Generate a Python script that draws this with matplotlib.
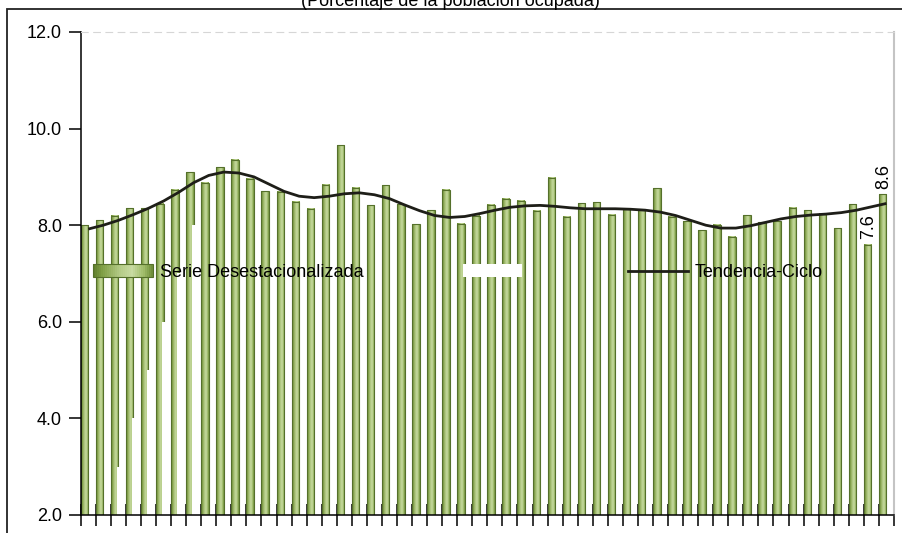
import numpy as np
import matplotlib
matplotlib.use('Agg')
import matplotlib.pyplot as plt
from matplotlib.colors import LinearSegmentedColormap
from matplotlib.patches import Rectangle, Patch
from matplotlib.lines import Line2D
from matplotlib.legend_handler import HandlerBase

plt.rcParams['font.family'] = ['Liberation Sans', 'DejaVu Sans']

# -------- datos --------
serie = [8.0, 8.1, 8.2, 8.35, 8.35, 8.44, 8.73, 9.1, 8.88, 9.2,
         9.35, 8.96, 8.7, 8.69, 8.49, 8.34, 8.84, 9.65, 8.78, 8.41,
         8.83, 8.43, 8.02, 8.31, 8.73, 8.03, 8.2, 8.42, 8.55, 8.51,
         8.3, 8.98, 8.17, 8.45, 8.47, 8.22, 8.34, 8.33, 8.76, 8.17,
         8.08, 7.9, 8.01, 7.76, 8.21, 8.06, 8.08, 8.36, 8.31, 8.24,
         7.94, 8.43, 7.6, 8.64]
tendencia = [7.92, 8.0, 8.1, 8.22, 8.35, 8.5, 8.68, 8.88, 9.03, 9.1,
             9.08, 9.0, 8.85, 8.7, 8.6, 8.57, 8.6, 8.65, 8.67, 8.63,
             8.55, 8.42, 8.3, 8.2, 8.16, 8.18, 8.24, 8.31, 8.37, 8.4,
             8.41, 8.39, 8.36, 8.34, 8.34, 8.34, 8.33, 8.31, 8.27, 8.2,
             8.1, 8.0, 7.94, 7.94, 7.99, 8.06, 8.13, 8.18, 8.21, 8.23,
             8.26, 8.31, 8.38, 8.45]
# serie auxiliar blanca (solo visible al inicio)
auxiliar = [np.nan, np.nan, 3.0, 4.0, 5.0, 6.0, 7.0, 8.0] + [np.nan] * 46
y_ticks = [2, 4, 6, 8, 10, 12]

TITULO = '(Porcentaje de la población ocupada)'
LBL_SERIE = 'Serie Desestacionalizada'
LBL_TEND = 'Tendencia-Ciclo'

# -------- estilos --------
EDGE = '#55702b'
TREND_C = '#1e1e18'
grad_cmap = LinearSegmentedColormap.from_list('verde', [
    (0.0, '#5d7c2c'), (0.15, '#7f9e45'), (0.45, '#b4cb86'),
    (0.65, '#c8dba2'), (0.85, '#9fbb68'), (1.0, '#6a8a35')])


class GradHandler(HandlerBase):
    def create_artists(self, legend, orig, xd, yd, w, h, fontsize, trans):
        arts = []
        n = 30
        for k in range(n):
            arts.append(Rectangle((-xd + w * k / n, -yd), w / n + 0.4, h,
                                  facecolor=grad_cmap((k + 0.5) / n),
                                  edgecolor='none', transform=trans))
        arts.append(Rectangle((-xd, -yd), w, h, facecolor='none',
                              edgecolor=EDGE, lw=0.8, transform=trans))
        return arts


fig = plt.figure(figsize=(9.02, 5.33), dpi=100)
ax = fig.add_axes([0.0895, 0.0338, 0.9016, 0.9062])

x = np.arange(len(serie))
grad = np.linspace(0, 1, 64).reshape(1, -1)

# barras con degradado
for xi, v in zip(x, serie):
    ax.imshow(grad, cmap=grad_cmap, extent=[xi, xi + 0.5, 0, v],
              aspect='auto', interpolation='bicubic', zorder=2)
ax.bar(x, serie, width=0.5, align='edge', facecolor='none',
       edgecolor=EDGE, linewidth=0.8, zorder=2.1)
ax.bar(x + 0.4, auxiliar, width=0.5, align='edge', color='white',
       edgecolor='none', zorder=2.5)

ax.plot(x + 0.5, tendencia, color=TREND_C, lw=2, zorder=3,
        solid_joinstyle='round', solid_capstyle='butt')

# etiquetas últimas barras
for i in (len(serie) - 2, len(serie) - 1):
    ax.annotate(f'{serie[i]:.1f}', (i + 0.3, serie[i]), xytext=(0, 4),
                textcoords='offset points', rotation=90, ha='center',
                va='bottom', fontsize=13, zorder=4)

ax.set_xlim(0, len(serie))
ax.set_ylim(2, 12)
ax.set_yticks(y_ticks)
ax.set_yticklabels([f'{t:.1f}' for t in y_ticks])
ax.set_xticks(np.arange(len(serie) + 1))
ax.set_xticklabels([])
ax.tick_params(axis='y', direction='out', length=8.6, width=1.1, pad=5,
               labelsize=13)
ax.tick_params(axis='x', direction='inout', length=16.5, width=1.1)

for s in ('left', 'bottom'):
    ax.spines[s].set_color('black')
    ax.spines[s].set_linewidth(1.1)
ax.spines['top'].set_color('#d6d6d6')
ax.spines['top'].set_linestyle((0, (6, 5)))
ax.spines['right'].set_color('#c4c4c4')
ax.spines['right'].set_linewidth(1.5)

handles = [Patch(), Patch(facecolor='white', edgecolor='none'),
           Line2D([], [], color=TREND_C, lw=2)]
leg = ax.legend(handles, [LBL_SERIE, '', LBL_TEND], ncol=3,
                loc='center left', bbox_to_anchor=(0.0151, 0.502),
                frameon=False, fontsize=13, borderpad=0, borderaxespad=0,
                handlelength=3.3, handleheight=0.72, handletextpad=0.39,
                columnspacing=5.5,
                handler_map={handles[0]: GradHandler()})
leg.set_zorder(5)

fig.text(0.499, 1 - 6 / 533, TITULO, ha='center', va='baseline',
         fontsize=13)

# marco exterior
fig.add_artist(Rectangle((6.5 / 902, -0.2), 1.2, 1 - 9 / 533 + 0.2,
                         transform=fig.transFigure, fill=False,
                         edgecolor='#222222', lw=1.3))

fig.savefig('out.png', dpi=100)
